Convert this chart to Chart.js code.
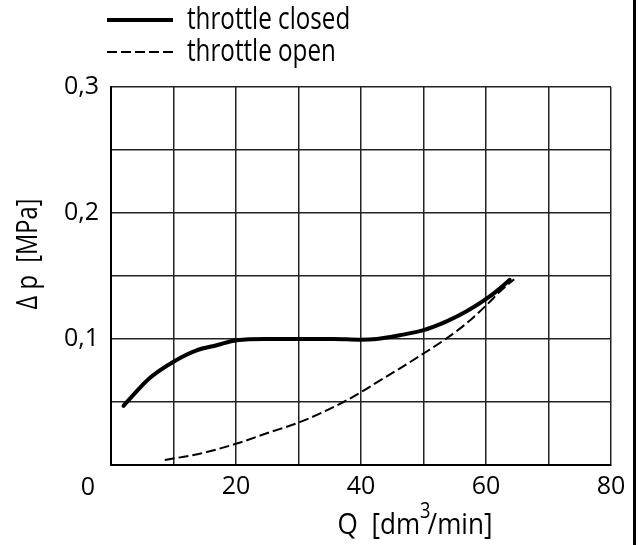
<!DOCTYPE html>
<html>
<head>
<meta charset="utf-8">
<script src="https://cdn.jsdelivr.net/npm/chart.js@4/dist/chart.umd.min.js"></script>
<style>
  body { margin: 0; background: #fff; }
  #wrap { position: relative; width: 639px; height: 545px; }
  #edge { position: absolute; left: 633px; top: 0; width: 3px; height: 545px; background: #000; }
</style>
</head>
<body>
<div id="wrap">
  <canvas id="myChart" width="639" height="545"></canvas>
  <div id="edge"></div>
</div>
<script>
// datos
const qClosed = [2, 6.2, 10, 13.7, 16.9, 20.1, 24.9, 30.2, 35.6, 39.8, 42.5, 46.2, 50, 53.7, 56.9, 60.1, 62.2, 63.8];
const dpClosed = [0.047, 0.069, 0.082, 0.091, 0.095, 0.099, 0.100, 0.100, 0.100, 0.0995, 0.100, 0.103, 0.107, 0.114, 0.122, 0.132, 0.140, 0.147];

const qOpen = [8.6, 14.2, 20.1, 25.4, 30.2, 37.2, 40.4, 43, 46.5, 50, 53.7, 56.9, 60.1, 62.2, 64.5];
const dpOpen = [0.004, 0.009, 0.017, 0.026, 0.034, 0.050, 0.059, 0.067, 0.0775, 0.0885, 0.1005, 0.1125, 0.127, 0.1375, 0.1475];

const xTickLabels = { 20: '20', 40: '40', 60: '60', 80: '80' };
const yTickLabels = { 10: '0,1', 20: '0,2', 30: '0,3' };

const seriesLabels = ['throttle closed', 'throttle open'];
const xTitleParts = ['Q  [dm', '3', '/min]'];
const yTitle = 'Δ p  [MPa]';

const fontFamily = '"Open Sans", sans-serif';

function toPoints(xs, ys) {
   return xs.map((x, i) => ({ x: x, y: ys[i] }));
}

function font(size) {
   return size + 'px ' + fontFamily;
}

// texto estrecho (la fuente original es condensada)
function narrowText(ctx, text, x, y, sx) {
   ctx.save();
   ctx.translate(x, y);
   ctx.scale(sx, 1);
   ctx.fillText(text, 0, 0);
   ctx.restore();
}

// leyenda, titulos y el cero del origen
const extras = {
   id: 'extras',
   afterDraw(chart) {
      const ctx = chart.ctx;
      const xs = chart.scales.x;
      ctx.save();
      ctx.fillStyle = '#000';
      ctx.strokeStyle = '#000';

      // leyenda
      ctx.font = font(31);
      ctx.textBaseline = 'alphabetic';
      ctx.textAlign = 'left';
      chart.data.datasets.forEach((ds, i) => {
         const ly = 20 + i * 32;
         ctx.beginPath();
         ctx.lineWidth = i === 0 ? 4 : 2;
         ctx.setLineDash(ds.borderDash || []);
         ctx.moveTo(107, ly);
         ctx.lineTo(173, ly);
         ctx.stroke();
         ctx.setLineDash([]);
         narrowText(ctx, ds.label, 187, ly + 9, 0.78);
      });

      // cero del origen
      ctx.font = font(25);
      ctx.textAlign = 'center';
      ctx.textBaseline = 'middle';
      ctx.fillText('0', xs.getPixelForValue(0) - 23, 488);

      // titulo eje x con superindice
      const sx = 0.87;
      ctx.textAlign = 'left';
      ctx.textBaseline = 'alphabetic';
      ctx.font = font(30);
      const w0 = ctx.measureText(xTitleParts[0]).width * sx;
      const w2 = ctx.measureText(xTitleParts[2]).width * sx;
      ctx.font = font(21);
      const w1 = ctx.measureText(xTitleParts[1]).width * sx;
      const total = w0 + w1 - 3 + w2;
      let tx = 415 - total / 2;
      ctx.font = font(30);
      narrowText(ctx, xTitleParts[0], tx, 534, sx);
      tx += w0;
      ctx.font = font(21);
      narrowText(ctx, xTitleParts[1], tx, 518, sx);
      tx += w1 - 3;
      ctx.font = font(30);
      narrowText(ctx, xTitleParts[2], tx, 534, sx);

      // titulo eje y
      ctx.textAlign = 'center';
      ctx.textBaseline = 'middle';
      ctx.translate(28, 254);
      ctx.rotate(-Math.PI / 2);
      ctx.scale(0.79, 1);
      ctx.fillText(yTitle, 0, 0);
      ctx.restore();
   }
};

const data = {
   datasets: [{
      label: seriesLabels[0],
      data: toPoints(qClosed, dpClosed),
      borderColor: '#000',
      borderWidth: 4,
      pointRadius: 0,
      cubicInterpolationMode: 'monotone',
      borderCapStyle: 'round'
   }, {
      label: seriesLabels[1],
      data: toPoints(qOpen, dpOpen),
      borderColor: '#000',
      borderWidth: 2,
      borderDash: [10, 4],
      pointRadius: 0,
      cubicInterpolationMode: 'monotone'
   }]
};

const config = {
   type: 'line',
   data: data,
   plugins: [extras],
   options: {
      responsive: false,
      animation: false,
      layout: { padding: { left: 0, right: 28, top: 87, bottom: 0 } },
      plugins: {
         legend: { display: false },
         tooltip: { enabled: false }
      },
      scales: {
         x: {
            type: 'linear',
            min: 0,
            max: 80,
            afterFit: (s) => { s.height = 80; },
            border: { color: '#000', width: 2 },
            grid: { color: '#222', lineWidth: 1.5, drawTicks: false },
            ticks: {
               stepSize: 10,
               padding: 7,
               color: '#000',
               font: { family: fontFamily, size: 25 },
               maxRotation: 0,
               autoSkip: false,
               callback: (v) => xTickLabels[Math.round(v)] || ''
            }
         },
         y: {
            min: 0,
            max: 0.3,
            afterFit: (s) => { s.width = 111; },
            border: { color: '#000', width: 2 },
            grid: { color: '#222', lineWidth: 1.5, drawTicks: false },
            ticks: {
               stepSize: 0.05,
               padding: 12,
               color: '#000',
               font: { family: fontFamily, size: 25 },
               autoSkip: false,
               callback: (v) => yTickLabels[Math.round(v * 100)] || ''
            }
         }
      }
   }
};

const myChart = new Chart(document.getElementById('myChart'), config);
</script>
</body>
</html>
